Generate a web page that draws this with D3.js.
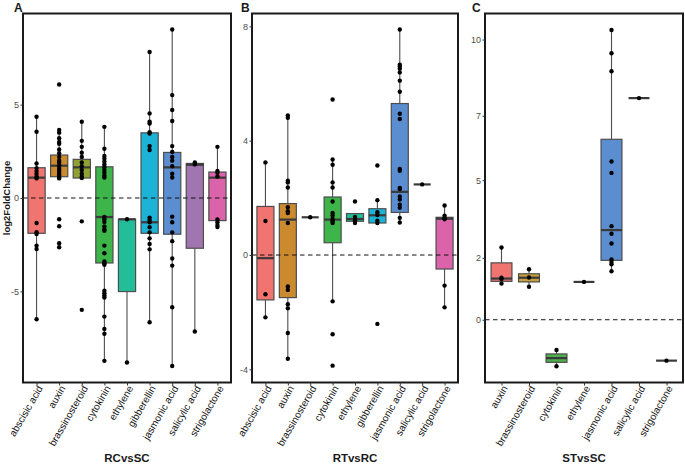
<!DOCTYPE html>
<html><head><meta charset="utf-8">
<script src="https://cdn.jsdelivr.net/npm/d3@7"></script>
<style>body{margin:0;background:#fff}svg{display:block}text{font-family:"Liberation Sans",Arial,sans-serif}</style>
</head><body>
<script>
// ---------- DATA ----------
const catsA = ["abscisic acid","auxin","brassinosteroid","cytokinin","ethylene","gibberellin","jasmonic acid","salicylic acid","strigolactone"];
const colorsA = ["#F07470","#CC8A2E","#8FA132","#3DB54A","#22BE9A","#1DB3D6","#5B8ED0","#A176B0","#DA63AA"];
// [whiskerLow, q1, median, q3, whiskerHigh]
const statsA = [
  [-6.49,-1.89,1.09,1.62,4.35],
  [1.05,1.14,1.73,2.30,3.64],
  [1.07,1.07,1.64,2.07,4.08],
  [-8.72,-3.48,-1.02,1.67,3.81],
  [-8.81,-5.01,-1.14,-1.14,-1.14],
  [-6.65,-1.89,-1.30,3.49,7.82],
  [-9.0,-1.94,1.64,2.44,9.02],
  [-7.15,-2.69,1.78,1.85,1.90],
  [-1.53,-1.21,1.09,1.39,2.74]
];
const pointsA = [
  [4.35,3.55,1.85,1.6,1.45,1.3,1.15,1.05,-1.34,-1.83,-1.93,-2.55,-2.73,-6.49],
  [6.08,3.64,3.5,3.2,3.0,2.9,2.6,2.4,2.2,2.0,1.9,1.75,1.6,1.5,1.4,1.3,1.2,1.1,1.05,-1.14,-1.51,-2.42,-2.64],
  [4.08,3.06,2.74,2.42,2.2,1.9,1.7,1.5,1.3,1.15,1.07,-1.25,-5.99],
  [3.81,2.64,2.25,2.1,1.95,1.8,1.65,1.5,1.35,1.2,1.1,-1.02,-1.14,-1.28,-1.53,-1.68,-1.75,-2.55,-2.96,-3.40,-3.5,-3.58,-4.97,-5.10,-5.22,-5.33,-6.35,-7.01,-7.27,-8.72],
  [-1.14,-8.81],
  [7.82,4.53,4.08,3.99,3.53,3.45,2.78,2.57,-1.05,-1.18,-1.3,-1.57,-1.84,-2.16,-2.46,-2.75,-6.65],
  [9.02,5.51,4.71,4.12,2.78,2.46,2.2,2.0,1.7,1.3,1.1,-1.0,-1.3,-1.84,-2.31,-3.24,-3.62,-5.85,-9.0],
  [1.9,1.8,-7.15],
  [2.74,1.45,1.35,1.15,-1.15,-1.3,-1.45,-1.55]
];

const catsB = catsA;
const colorsB = colorsA;
const statsB = [
  [-2.18,-1.57,-0.11,1.70,3.24],
  [-3.63,-1.49,1.24,1.80,4.88],
  [1.32,1.32,1.32,1.32,1.32],
  [-1.62,0.43,1.24,2.03,3.34],
  [1.12,1.18,1.26,1.45,1.45],
  [1.12,1.12,1.39,1.62,1.92],
  [1.14,1.49,2.21,5.30,7.89],
  [2.47,2.47,2.47,2.47,2.47],
  [-1.83,-0.49,1.27,1.32,1.73]
];
const pointsB = [
  [3.24,1.19,-1.37,-2.18],
  [4.88,4.8,2.60,2.54,2.36,1.67,1.53,1.47,1.12,-1.10,-1.22,-1.72,-1.86,-2.73,-3.63],
  [1.32],
  [5.44,3.34,3.16,2.54,2.36,1.87,1.47,1.38,1.26,1.18,1.12,-1.62,-2.77,-3.87],
  [1.87,1.33,1.22,1.12],
  [3.13,1.92,1.5,1.4,1.2,1.12,-2.41],
  [7.89,6.66,6.60,6.52,6.39,6.10,5.71,4.94,4.76,3.01,2.95,2.31,2.35,2.05,1.94,1.76,1.65,1.30,1.14],
  [2.47],
  [1.73,1.38,1.30,1.25,-1.07,-1.83]
];

const catsC = ["auxin","brassinosteroid","cytokinin","ethylene","jasmonic acid","salicylic acid","strigolactone"];
const colorsC = ["#F07470","#C9A03C","#4DB04A","#22BE9A","#5B8ED0","#A176B0","#DA63AA"];
const statsC = [
  [1.29,1.37,1.47,2.03,2.58],
  [1.18,1.35,1.50,1.64,1.80],
  [-1.66,-1.52,-1.37,-1.22,-1.08],
  [1.35,1.35,1.35,1.35,1.35],
  [1.73,2.12,3.20,6.44,10.34],
  [7.91,7.91,7.91,7.91,7.91],
  [-1.46,-1.46,-1.46,-1.46,-1.46]
];
const pointsC = [
  [2.58,1.5,1.45,1.29],
  [1.80,1.51,1.18],
  [-1.08,-1.66],
  [1.35],
  [10.34,9.51,8.87,5.65,5.24,3.34,3.07,2.72,2.15,2.06,1.98,1.73],
  [7.91],
  [-1.46]
];

const ticksA = [-5,0,5];        const tickLabelsA = ["-5","0","5"];
const ticksB = [-4,0,4,8];      const tickLabelsB = ["-4","0","4","8"];
const ticksC = [0,2.21,4.98,7.28,10]; const tickLabelsC = ["0","2","5","7","10"];

// ---------- DRAW ----------
const W = 685, H = 464;
const svg = d3.select("body").append("svg").attr("width", W).attr("height", H);

const panels = [
  {letter:"A", title:"RCvsSC", cats:catsA, colors:colorsA, stats:statsA, pts:pointsA, ticks:ticksA, labels:tickLabelsA,
   left:23, right:231, dom:[-9.88,9.88], lx:14},
  {letter:"B", title:"RTvsRC", cats:catsB, colors:colorsB, stats:statsB, pts:pointsB, ticks:ticksB, labels:tickLabelsB,
   left:252, right:458, dom:[-4.46,8.45], lx:241},
  {letter:"C", title:"STvsSC", cats:catsC, colors:colorsC, stats:statsC, pts:pointsC, ticks:ticksC, labels:tickLabelsC,
   left:485, right:683, dom:[-2.24,10.93], lx:472}
];
const plotTop = 13.5, plotBottom = 382.5;

panels.forEach(p => {
  const g = svg.append("g");
  const x = d3.scalePoint().domain(p.cats).range([p.left, p.right]).padding(0.6);
  const y = d3.scaleLinear().domain(p.dom).range([plotBottom, plotTop]);
  const bw = x.step() * 0.76;

  // boxes
  p.cats.forEach((c, i) => {
    const [lo, q1, md, q3, hi] = p.stats[i];
    const cx = x(c);
    g.append("line").attr("x1", cx).attr("x2", cx).attr("y1", y(hi)).attr("y2", y(q3))
      .attr("stroke", "#4d4d4d").attr("stroke-width", 1.1);
    g.append("line").attr("x1", cx).attr("x2", cx).attr("y1", y(q1)).attr("y2", y(lo))
      .attr("stroke", "#4d4d4d").attr("stroke-width", 1.1);
    g.append("rect").attr("x", cx - bw/2).attr("width", bw)
      .attr("y", y(q3)).attr("height", Math.max(0, y(q1) - y(q3)))
      .attr("fill", p.colors[i]).attr("stroke", "#4d4d4d").attr("stroke-width", 1.2);
    g.append("line").attr("x1", cx - bw/2).attr("x2", cx + bw/2).attr("y1", y(md)).attr("y2", y(md))
      .attr("stroke", "#3a3a3a").attr("stroke-width", 2.2);
  });

  // zero dashed line
  g.append("line").attr("x1", p.left).attr("x2", p.right).attr("y1", y(0)).attr("y2", y(0))
    .attr("stroke", "#111").attr("stroke-width", 1).attr("stroke-dasharray", "4.5,3.5");

  // points
  p.cats.forEach((c, i) => {
    g.selectAll(null).data(p.pts[i]).enter().append("circle")
      .attr("cx", x(c)).attr("cy", d => y(d)).attr("r", 2.2).attr("fill", "#000");
  });

  // frame
  g.append("rect").attr("x", p.left).attr("y", plotTop).attr("width", p.right - p.left).attr("height", plotBottom - plotTop)
    .attr("fill", "none").attr("stroke", "#1a1a1a").attr("stroke-width", 2);

  // y axis
  const ya = d3.axisLeft(y).tickValues(p.ticks).tickSize(2.5).tickFormat((d, i) => p.labels[i]);
  const yg = g.append("g").attr("transform", `translate(${p.left},0)`).call(ya);
  yg.select(".domain").remove();
  yg.selectAll(".tick line").attr("stroke", "#333");
  yg.selectAll(".tick text").attr("font-size", 9).style("fill", "#4d4d4d").attr("x", -4)
    .style("font-family", '"Liberation Sans",Arial,sans-serif');

  // x axis
  const xa = d3.axisBottom(x).tickSize(3);
  const xg = g.append("g").attr("transform", `translate(0,${plotBottom})`).call(xa);
  xg.select(".domain").remove();
  xg.selectAll(".tick line").attr("stroke", "#333");
  xg.selectAll(".tick text").attr("font-size", 10).style("fill", "#111")
    .style("font-family", '"Liberation Sans",Arial,sans-serif')
    .attr("text-anchor", "end").attr("dy", "0.35em")
    .attr("transform", "translate(3,4) rotate(-60)").attr("y", 0).attr("x", 0);

  // titles
  g.append("text").attr("x", (p.left + p.right)/2).attr("y", 461.5).attr("text-anchor", "middle")
    .attr("font-size", 11.5).attr("font-weight", "bold").attr("fill", "#1a1a1a").text(p.title);
  g.append("text").attr("x", p.lx).attr("y", 12).attr("font-size", 12).attr("font-weight", "bold")
    .attr("fill", "#1a1a1a").text(p.letter);
});

svg.append("text").attr("transform", `translate(10,${(plotTop+plotBottom)/2}) rotate(-90)`)
  .attr("text-anchor", "middle").attr("font-size", 9.5).attr("font-weight", "bold").attr("fill", "#1a1a1a")
  .text("log2FoldChange");
</script>
</body></html>
